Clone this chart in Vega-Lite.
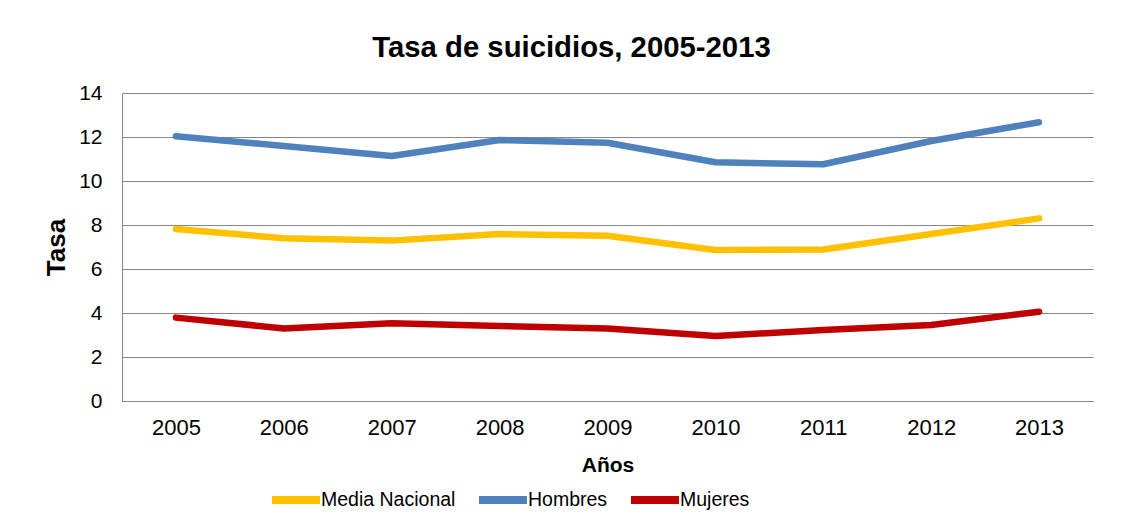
{
  "$schema": "https://vega.github.io/schema/vega-lite/v6.json",
  "autosize": "none",
  "width": 971,
  "height": 308,
  "padding": {"left": 122, "top": 93, "right": 36, "bottom": 131},
  "background": "white",
  "config": {
    "font": "Liberation Sans",
    "view": {"stroke": null}
  },
  "title": {
    "text": "Tasa de suicidios, 2005-2013",
    "fontSize": 29.3,
    "fontWeight": "bold",
    "color": "#000000",
    "anchor": "middle",
    "dx": -36,
    "offset": 19
  },
  "data": {
    "values": [
      {"year": "2005", "serie": "Media Nacional", "tasa": 7.82},
      {"year": "2006", "serie": "Media Nacional", "tasa": 7.4},
      {"year": "2007", "serie": "Media Nacional", "tasa": 7.29},
      {"year": "2008", "serie": "Media Nacional", "tasa": 7.59},
      {"year": "2009", "serie": "Media Nacional", "tasa": 7.51},
      {"year": "2010", "serie": "Media Nacional", "tasa": 6.86},
      {"year": "2011", "serie": "Media Nacional", "tasa": 6.89},
      {"year": "2012", "serie": "Media Nacional", "tasa": 7.59},
      {"year": "2013", "serie": "Media Nacional", "tasa": 8.3},
      {"year": "2005", "serie": "Hombres", "tasa": 12.03},
      {"year": "2006", "serie": "Hombres", "tasa": 11.59},
      {"year": "2007", "serie": "Hombres", "tasa": 11.14},
      {"year": "2008", "serie": "Hombres", "tasa": 11.86},
      {"year": "2009", "serie": "Hombres", "tasa": 11.74},
      {"year": "2010", "serie": "Hombres", "tasa": 10.85},
      {"year": "2011", "serie": "Hombres", "tasa": 10.76},
      {"year": "2012", "serie": "Hombres", "tasa": 11.82},
      {"year": "2013", "serie": "Hombres", "tasa": 12.67},
      {"year": "2005", "serie": "Mujeres", "tasa": 3.79},
      {"year": "2006", "serie": "Mujeres", "tasa": 3.3},
      {"year": "2007", "serie": "Mujeres", "tasa": 3.53},
      {"year": "2008", "serie": "Mujeres", "tasa": 3.41},
      {"year": "2009", "serie": "Mujeres", "tasa": 3.3},
      {"year": "2010", "serie": "Mujeres", "tasa": 2.95},
      {"year": "2011", "serie": "Mujeres", "tasa": 3.23},
      {"year": "2012", "serie": "Mujeres", "tasa": 3.45},
      {"year": "2013", "serie": "Mujeres", "tasa": 4.06}
    ]
  },
  "mark": {"type": "line", "strokeWidth": 6.5, "strokeCap": "round", "strokeJoin": "round"},
  "encoding": {
    "x": {
      "field": "year",
      "type": "ordinal",
      "scale": {"type": "point", "padding": 0.5},
      "axis": {
        "title": "Años",
        "titleFontSize": 21,
        "titleFontWeight": "bold",
        "titleColor": "#000000",
        "titlePadding": 16,
        "labelAngle": 0,
        "labelFontSize": 22,
        "labelColor": "#000000",
        "labelPadding": 16,
        "ticks": false,
        "domain": true,
        "domainColor": "#868686",
        "grid": false
      }
    },
    "y": {
      "field": "tasa",
      "type": "quantitative",
      "scale": {"domain": [0, 14], "nice": false},
      "axis": {
        "title": "Tasa",
        "titleFontSize": 26,
        "titleFontWeight": "bold",
        "titleColor": "#000000",
        "titlePadding": 9,
        "values": [0, 2, 4, 6, 8, 10, 12, 14],
        "labelFontSize": 21,
        "labelColor": "#000000",
        "labelPadding": 20,
        "ticks": false,
        "domain": true,
        "domainColor": "#868686",
        "grid": true,
        "gridColor": "#868686",
        "gridWidth": 1
      }
    },
    "color": {
      "field": "serie",
      "type": "nominal",
      "scale": {
        "domain": ["Media Nacional", "Hombres", "Mujeres"],
        "range": ["#FFC000", "#4F81BD", "#C00000"]
      },
      "legend": {
        "title": null,
        "orient": "none",
        "direction": "horizontal",
        "legendX": 146,
        "legendY": 379,
        "symbolType": "stroke",
        "symbolSize": 2304,
        "symbolStrokeWidth": 8,
        "labelFontSize": 19.5,
        "labelColor": "#000000",
        "labelOffset": -3,
        "columnPadding": 7
      }
    }
  }
}
